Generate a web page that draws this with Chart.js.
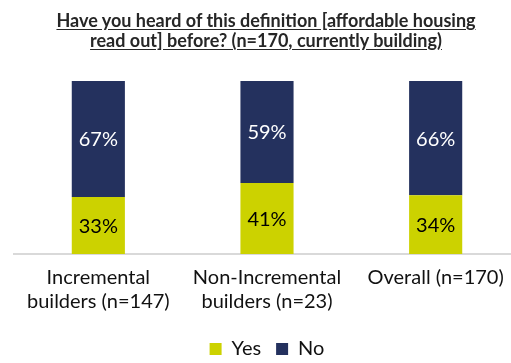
<!DOCTYPE html>
<html>
<head>
<meta charset="utf-8">
<script src="https://cdn.jsdelivr.net/npm/chart.js@4.4.1/dist/chart.umd.min.js"></script>
<style>
  html, body { margin: 0; padding: 0; background: #fff; overflow: hidden; }
  #wrap { position: relative; width: 522px; height: 363px; }
  #title {
    position: absolute; left: 0; top: 10px; width: 532px;
    text-align: center; font: bold 18px Lato, sans-serif; line-height: 20px;
    color: #262626; text-decoration: underline; text-underline-offset: 2px;
  }
</style>
</head>
<body>
<div id="wrap">
  <canvas id="chart"></canvas>
  <div id="title">Have you heard of this definition [affordable housing<br>read out] before? (n=170, currently building)</div>
</div>
<script>
// categories and shares (%)
const categories = [
  ['Incremental', 'builders (n=147)'],
  ['Non-Incremental', 'builders (n=23)'],
  ['Overall (n=170)']
];
const yesValues = [33, 41, 34];
const noValues = [67, 59, 66];

const YES_COLOR = '#ccd200';
const NO_COLOR = '#24315e';

// writes the percentage in the middle of each bar segment
const segmentLabels = {
  id: 'segmentLabels',
  afterDatasetsDraw(chart) {
    const ctx = chart.ctx;
    ctx.save();
    ctx.font = '20px Lato, sans-serif';
    ctx.textAlign = 'center';
    ctx.textBaseline = 'middle';
    chart.data.datasets.forEach((ds, i) => {
      const meta = chart.getDatasetMeta(i);
      meta.data.forEach((bar, j) => {
        const mid = (bar.y + bar.base) / 2;
        ctx.fillStyle = i === 1 ? '#ffffff' : '#000000';
        ctx.fillText(ds.data[j] + '%', bar.x, mid + 1);
      });
    });
    ctx.restore();
  }
};

new Chart(document.getElementById('chart').getContext('2d'), {
  type: 'bar',
  data: {
    labels: categories,
    datasets: [
      { label: 'Yes', data: yesValues, backgroundColor: YES_COLOR },
      { label: 'No', data: noValues, backgroundColor: NO_COLOR }
    ]
  },
  options: {
    responsive: true,
    maintainAspectRatio: false,
    animation: false,
    barPercentage: 0.63,
    categoryPercentage: 0.5,
    layout: { padding: { top: 81, left: 14, right: 2, bottom: -6 } },
    plugins: {
      title: { display: false },
      tooltip: { enabled: false },
      legend: {
        position: 'bottom',
        labels: {
          color: '#111',
          font: { family: 'Lato', size: 20 },
          boxWidth: 12,
          boxHeight: 12,
          padding: 15
        }
      }
    },
    scales: {
      x: {
        stacked: true,
        grid: { display: false },
        border: { display: true, color: '#d9d9d9', width: 2 },
        ticks: {
          color: '#111',
          font: { family: 'Lato', size: 20, lineHeight: 1.2 },
          maxRotation: 0,
          autoSkip: false,
          padding: 4
        },
        // extra room between the category labels and the legend
        afterFit(scale) { scale.height += 6; }
      },
      y: {
        stacked: true,
        display: false,
        min: 0,
        max: 100
      }
    }
  },
  plugins: [segmentLabels]
});
</script>
</body>
</html>
